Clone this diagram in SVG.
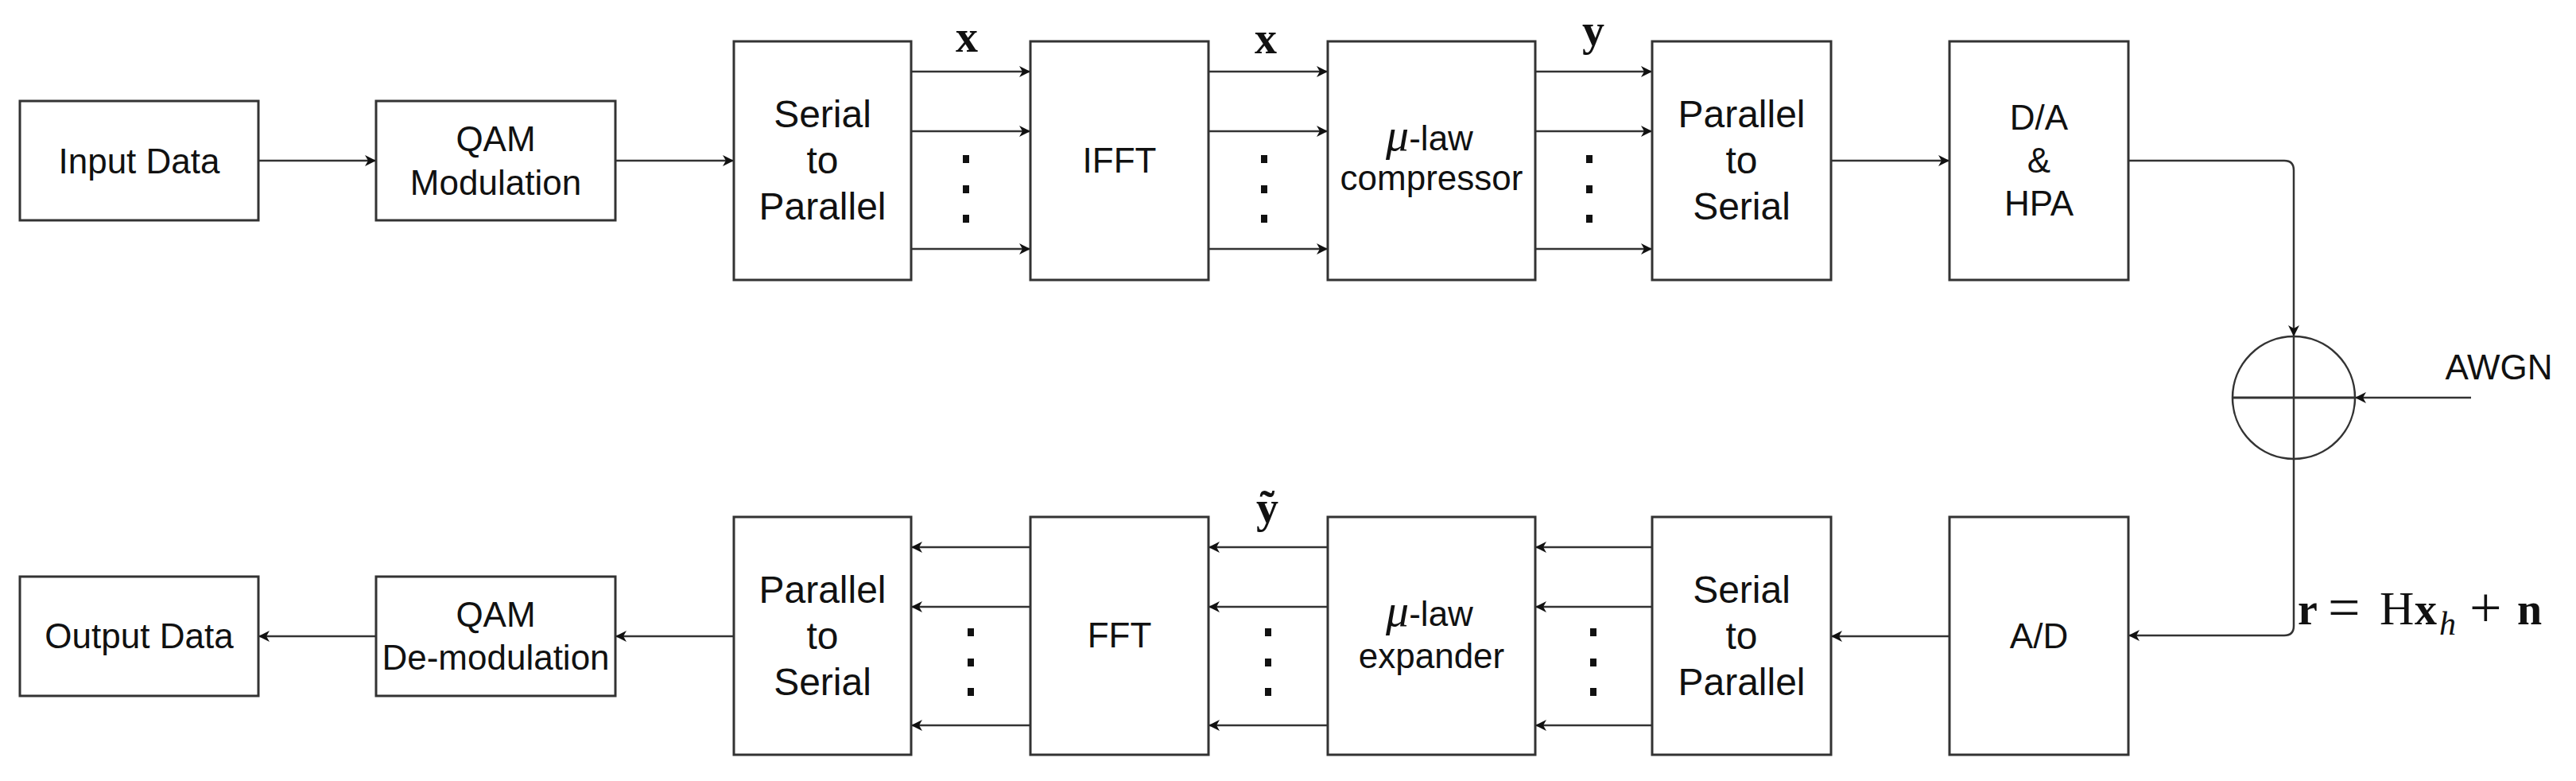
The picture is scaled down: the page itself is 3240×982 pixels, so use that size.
<svg xmlns="http://www.w3.org/2000/svg" width="3240" height="982" viewBox="0 0 3240 982">
<style>
.box{fill:#fff;stroke:#333;stroke-width:3}
.t{font-family:"Liberation Sans",Arial,sans-serif;font-size:44px;fill:#111;text-anchor:middle}
.t48{font-family:"Liberation Sans",Arial,sans-serif;font-size:48px;fill:#111;text-anchor:middle}
.mu{font-family:"Liberation Serif","Times New Roman",serif;font-style:italic;font-size:58px}
.m{font-family:"Liberation Serif","Times New Roman",serif;font-size:56px;fill:#111}
.mb{font-weight:bold}
.c{fill:none;stroke:#333;stroke-width:2.5}
.dot{fill:#111}
</style>
<defs>
<marker id="ah" markerUnits="userSpaceOnUse" markerWidth="16" markerHeight="14" refX="14" refY="7" orient="auto" viewBox="0 0 16 14">
<path d="M0,0 L14,7 L0,14 L4,7 Z" fill="#111"/>
</marker>
</defs>
<rect width="3240" height="982" fill="#fff"/>

<g id="connectors">
<line class="c" x1="325" y1="202" x2="473" y2="202" marker-end="url(#ah)"/>
<line class="c" x1="774" y1="202" x2="923" y2="202" marker-end="url(#ah)"/>
<line class="c" x1="1146" y1="90" x2="1296" y2="90" marker-end="url(#ah)"/>
<line class="c" x1="1146" y1="165" x2="1296" y2="165" marker-end="url(#ah)"/>
<line class="c" x1="1146" y1="313" x2="1296" y2="313" marker-end="url(#ah)"/>
<line class="c" x1="1520" y1="90" x2="1670" y2="90" marker-end="url(#ah)"/>
<line class="c" x1="1520" y1="165" x2="1670" y2="165" marker-end="url(#ah)"/>
<line class="c" x1="1520" y1="313" x2="1670" y2="313" marker-end="url(#ah)"/>
<line class="c" x1="1931" y1="90" x2="2078" y2="90" marker-end="url(#ah)"/>
<line class="c" x1="1931" y1="165" x2="2078" y2="165" marker-end="url(#ah)"/>
<line class="c" x1="1931" y1="313" x2="2078" y2="313" marker-end="url(#ah)"/>
<line class="c" x1="2303" y1="202" x2="2452" y2="202" marker-end="url(#ah)"/>
<path class="c" d="M2677,202 H2873 Q2885,202 2885,214 V423" marker-end="url(#ah)"/>
<line class="c" x1="3108" y1="500" x2="2962" y2="500" marker-end="url(#ah)"/>
<path class="c" d="M2885,577 V787 Q2885,799 2873,799 H2677" marker-end="url(#ah)"/>
<line class="c" x1="2452" y1="800" x2="2303" y2="800" marker-end="url(#ah)"/>
<line class="c" x1="2078" y1="688" x2="1931" y2="688" marker-end="url(#ah)"/>
<line class="c" x1="2078" y1="763" x2="1931" y2="763" marker-end="url(#ah)"/>
<line class="c" x1="2078" y1="912" x2="1931" y2="912" marker-end="url(#ah)"/>
<line class="c" x1="1670" y1="688" x2="1520" y2="688" marker-end="url(#ah)"/>
<line class="c" x1="1670" y1="763" x2="1520" y2="763" marker-end="url(#ah)"/>
<line class="c" x1="1670" y1="912" x2="1520" y2="912" marker-end="url(#ah)"/>
<line class="c" x1="1296" y1="688" x2="1146" y2="688" marker-end="url(#ah)"/>
<line class="c" x1="1296" y1="763" x2="1146" y2="763" marker-end="url(#ah)"/>
<line class="c" x1="1296" y1="912" x2="1146" y2="912" marker-end="url(#ah)"/>
<line class="c" x1="923" y1="800" x2="774" y2="800" marker-end="url(#ah)"/>
<line class="c" x1="473" y1="800" x2="325" y2="800" marker-end="url(#ah)"/>
</g>

<g id="dots">
<rect class="dot" x="1211" y="195" width="8" height="10"/>
<rect class="dot" x="1211" y="233" width="8" height="10"/>
<rect class="dot" x="1211" y="270" width="8" height="10"/>
<rect class="dot" x="1586" y="195" width="8" height="10"/>
<rect class="dot" x="1586" y="233" width="8" height="10"/>
<rect class="dot" x="1586" y="270" width="8" height="10"/>
<rect class="dot" x="1995" y="195" width="8" height="10"/>
<rect class="dot" x="1995" y="233" width="8" height="10"/>
<rect class="dot" x="1995" y="270" width="8" height="10"/>
<rect class="dot" x="1217" y="790" width="8" height="10"/>
<rect class="dot" x="1217" y="828" width="8" height="10"/>
<rect class="dot" x="1217" y="865" width="8" height="10"/>
<rect class="dot" x="1591" y="790" width="8" height="10"/>
<rect class="dot" x="1591" y="828" width="8" height="10"/>
<rect class="dot" x="1591" y="865" width="8" height="10"/>
<rect class="dot" x="2000" y="790" width="8" height="10"/>
<rect class="dot" x="2000" y="828" width="8" height="10"/>
<rect class="dot" x="2000" y="865" width="8" height="10"/>
</g>

<g id="input">
<rect class="box" x="25" y="127" width="300" height="150"/>
<text class="t" x="175" y="218">Input Data</text>
</g>
<g id="qam-mod">
<rect class="box" x="473" y="127" width="301" height="150"/>
<text class="t" x="623.5" y="190">QAM</text>
<text class="t" x="623.5" y="245">Modulation</text>
</g>
<g id="sp-top">
<rect class="box" x="923" y="52" width="223" height="300"/>
<text class="t48" x="1034.5" y="160">Serial</text>
<text class="t48" x="1034.5" y="218">to</text>
<text class="t48" x="1034.5" y="276">Parallel</text>
</g>
<g id="ifft">
<rect class="box" x="1296" y="52" width="224" height="300"/>
<text class="t" x="1408" y="217">IFFT</text>
</g>
<g id="compressor">
<rect class="box" x="1670" y="52" width="261" height="300"/>
<text class="t" x="1798" y="189"><tspan class="mu">μ</tspan>-law</text>
<text class="t" x="1800.5" y="239">compressor</text>
</g>
<g id="ps-top">
<rect class="box" x="2078" y="52" width="225" height="300"/>
<text class="t48" x="2190.5" y="160">Parallel</text>
<text class="t48" x="2190.5" y="218">to</text>
<text class="t48" x="2190.5" y="276">Serial</text>
</g>
<g id="da-hpa">
<rect class="box" x="2452" y="52" width="225" height="300"/>
<text class="t" x="2564.5" y="163">D/A</text>
<text class="t" x="2564.5" y="217">&amp;</text>
<text class="t" x="2564.5" y="271">HPA</text>
</g>
<g id="sum">
<circle cx="2885" cy="500" r="77" fill="#fff" stroke="#333" stroke-width="2.5"/>
<line x1="2885" y1="423" x2="2885" y2="577" stroke="#333" stroke-width="2.5"/>
<line x1="2808" y1="500" x2="2962" y2="500" stroke="#333" stroke-width="3"/>
</g>
<g id="awgn">
<text class="t" x="3143" y="477">AWGN</text>
</g>
<g id="ad">
<rect class="box" x="2452" y="650" width="225" height="299"/>
<text class="t" x="2564.5" y="815">A/D</text>
</g>
<g id="sp-bottom">
<rect class="box" x="2078" y="650" width="225" height="299"/>
<text class="t48" x="2190.5" y="758">Serial</text>
<text class="t48" x="2190.5" y="816">to</text>
<text class="t48" x="2190.5" y="874">Parallel</text>
</g>
<g id="expander">
<rect class="box" x="1670" y="650" width="261" height="299"/>
<text class="t" x="1798" y="787"><tspan class="mu">μ</tspan>-law</text>
<text class="t" x="1800.5" y="840">expander</text>
</g>
<g id="fft">
<rect class="box" x="1296" y="650" width="224" height="299"/>
<text class="t" x="1408" y="814">FFT</text>
</g>
<g id="ps-bottom">
<rect class="box" x="923" y="650" width="223" height="299"/>
<text class="t48" x="1034.5" y="758">Parallel</text>
<text class="t48" x="1034.5" y="816">to</text>
<text class="t48" x="1034.5" y="874">Serial</text>
</g>
<g id="qam-demod">
<rect class="box" x="473" y="725" width="301" height="150"/>
<text class="t" x="623.5" y="788">QAM</text>
<text class="t" x="623.5" y="842">De-modulation</text>
</g>
<g id="output">
<rect class="box" x="25" y="725" width="300" height="150"/>
<text class="t" x="175" y="815">Output Data</text>
</g>

<g id="labels">
<text class="m mb" x="1216" y="65" text-anchor="middle">x</text>
<text class="m mb" x="1592" y="67" text-anchor="middle">x</text>
<text class="m mb" x="2004" y="57" text-anchor="middle">y</text>
<text class="m mb" x="1594" y="657" text-anchor="middle">ỹ</text>
<text class="m" y="785"><tspan class="mb" x="2890">r</tspan><tspan x="2928" y="788" font-size="72">=</tspan><tspan x="2993" y="785" font-size="60">H</tspan><tspan class="mb" x="3037">x</tspan><tspan x="3068" y="798" font-style="italic" font-size="42">h</tspan><tspan x="3106" y="788" font-size="72">+</tspan><tspan class="mb" x="3166" y="785">n</tspan></text>
</g>
</svg>
